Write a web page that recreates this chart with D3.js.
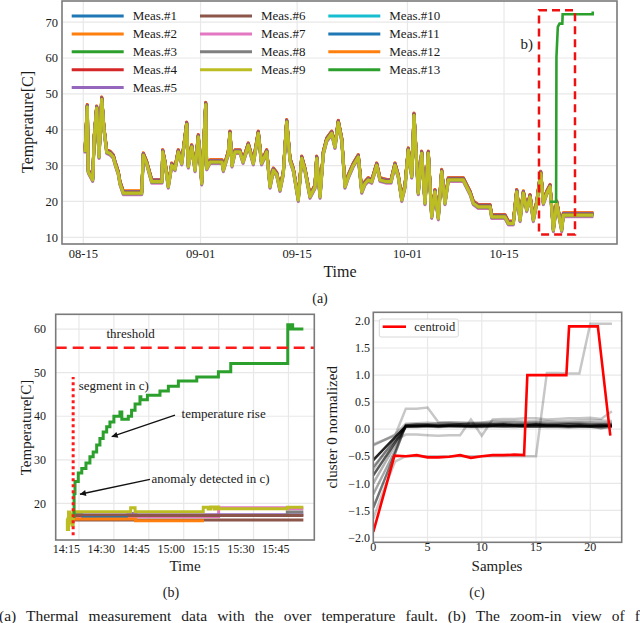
<!DOCTYPE html>
<html>
<head>
<meta charset="utf-8">
<script src="https://cdnjs.cloudflare.com/ajax/libs/d3/7.8.5/d3.min.js"></script>
<style>
  body { margin: 0; background: #fff; }
  text { font-family: "Liberation Serif", "DejaVu Serif", serif; fill: #1a1a1a; }
</style>
</head>
<body>
<script>

// ---------- (a) overview: days after 08-15 and temperature of Meas.#9 ----------
var overviewDays = [0.25,0.58,0.72,1.36,1.59,1.94,2.28,2.67,3.0,3.39,3.87,4.35,4.60,5.07,5.32,5.80,8.47,8.70,9.19,9.92,
  11.41,11.51,11.85,12.32,12.82,13.3,13.77,14.27,14.99,15.22,15.72,16.20,16.67,17.17,17.75,17.89,18.37,20.11,20.30,21.02,
  21.27,21.56,22.0,22.72,23.16,23.92,24.65,25.37,25.84,26.59,27.07,27.55,28.04,28.52,29.0,29.49,29.97,30.45,31.17,31.67,
  32.14,32.87,33.59,33.84,34.32,34.8,35.29,36.02,36.49,36.97,37.47,37.94,38.42,39.15,39.87,40.37,40.84,41.32,41.82,42.54,
  43.02,43.99,44.61,45.19,45.67,46.17,46.64,47.12,47.62,47.95,48.57,49.06,49.54,50.02,50.51,50.99,51.47,51.96,52.44,52.92,
  55.10,55.59,56.07,56.55,57.27,58.97,59.21,61.14,61.62,62.35,62.84,63.32,63.80,64.29,64.77,65.25,65.74,66.32,66.70,67.19,
  67.67,68.15,68.64,69.36,69.60,73.95];
var overviewTemps = [33.8,46.4,28.3,26,38,46,32.4,48.5,40,33.8,33.4,32.4,30.6,27.8,25,22.3,22.3,32.9,30.6,25.5,
  25.5,33.8,30.6,24.1,30.1,29,33.8,30.6,41.5,29.7,35.2,28.7,38,25,47,29.2,31,31,28.7,33.4,
  39,30,33.8,33.8,31,35.7,30.6,39,30.6,33.8,24.1,28.7,27.5,23.2,27.8,42.2,31.5,28.7,20.4,32,
  28.7,21.3,24,32,21.3,33.4,37.1,39,35.2,42,37.1,24.1,26.9,30.1,32.4,22.7,25,26,25.5,30.1,
  26,25.5,25.5,30.1,26.9,20.4,24.1,34.3,26.9,44,22.3,33.4,19.5,33.4,15.7,22.7,15.3,28.3,19.5,26,
  26,24.1,22.3,19.5,18.5,18.5,15.7,15.7,13.9,13.9,22.7,14.8,22.3,17.6,21.3,14.8,19.5,27.8,19.5,22.3,
  24.1,12,19.5,12,16.2,16.2];

var measNames = ["Meas.#1","Meas.#2","Meas.#3","Meas.#4","Meas.#5","Meas.#6","Meas.#7",
  "Meas.#8","Meas.#9","Meas.#10","Meas.#11","Meas.#12","Meas.#13"];
var measColors = ["#1f77b4","#ff7f0e","#2ca02c","#d62728","#9467bd","#8c564b","#e377c2",
  "#7f7f7f","#bcbd22","#17becf","#1f77b4","#ff7f0e","#2ca02c"];
// how far each sensor sits above / below Meas.#9 (degrees)
var measOffsets = [0.2, 0.6, 0.25, 0.5, 0.45, 0.3, -0.45, -0.25, 0, 0.1, 0.15, 0.65, 0];

// Meas.#13 leaves the group at the end (over-temperature fault)
var meas13Days = [67.67, 68.55, 68.6, 68.8, 69.05, 69.45, 69.5, 73.86, 73.86];
var meas13Temps = [19.9, 19.9, 60.3, 68.7, 69.6, 69.6, 72.2, 72.2, 73.0];

var dateTicks = [0, 17, 31, 47, 61];
var dateLabels = ["08-15", "09-01", "09-15", "10-01", "10-15"];
var tempTicks = [10, 20, 30, 40, 50, 60, 70];
var boxDays = [66.07, 71.29];
var boxTemps = [10.8, 73.3];

// ---------- (b) zoom: minutes after 14:00 ----------
var zoomTicks = [15, 30, 45, 60, 75, 90, 105];
var zoomLabels = ["14:15", "14:30", "14:45", "15:00", "15:15", "15:30", "15:45"];
var zoomTempTicks = [20, 30, 40, 50, 60];
var rise13 = [[12.5,17],[12.9,22.3],[13.3,25],[14.7,27],[16.2,28],[18,29.3],[19.7,30.7],[21.1,31.8],[22.6,33.4],
  [24,34.9],[25.4,36.4],[26.9,37.6],[28.3,38.7],[30,40],[32.6,41],[33.4,39.3],[36.2,40],[37.6,41.4],[39.1,42.8],
  [41.2,44.5],[41.6,43.8],[44.4,44.8],[49.8,45.8],[53.4,46.9],[57.7,48.1],[65.6,49],[74.9,50.2],[80.2,52.1],
  [104.7,61],[105.2,60],[106.4,61],[106.8,60],[111.4,60]];
var olive9 = [[9.6,16.5],[10.0,14.0],[10.5,18.0],[11.0,15.5],[11.5,17.5],[12.0,15.0],[12.5,18.1],[37.2,19.0],
  [39.1,18.1],[68.4,19.1],[70.5,18.7],[71.5,19.2],[73,18.7],[74,19.2],[75,18.8],[104.5,19.1],[111.4,19.1]];
var pink7 = [[12.8,17.0],[75,19.0],[104.5,18.8],[111.4,18.8]];
var purple5 = [[13,17.4],[36,17.7],[39.5,17.4],[111.4,17.4]];
var gray8 = [[10.5,16.0],[12.3,17.5],[16.1,17.2],[104.5,18.0],[111.4,18.0]];
var brown6 = [[12.5,17.2],[111.4,17.2]];
var brown6low = [[12.5,16.2],[111.4,16.2]];
var blue1 = [[16,16.7],[36,16.7]];
var orange2 = [[12.5,16.4],[39.3,16.0],[68.7,16.0]];
var threshold = 55.7;
var segmentMin = 12.5, segmentTemps = [12.7, 49];
var riseArrowMin = [56.25, 29.05], riseArrowTemp = [40.25, 35.3];
var anomArrowMin = [45.5, 15.4], anomArrowTemp = [25.5, 22.1];

// ---------- (c) cluster 0 members and centroid ----------
var sampleTicks = [0, 5, 10, 15, 20];
var normTicks = [-2, -1.5, -1, -0.5, 0, 0.5, 1, 1.5, 2];
var members = [
  [-0.57,-0.36,-0.15,0.06,0.06,0.07,0.06,0.07,0.07,0.06,0.07,0.07,0.08,0.07,0.07,0.08,0.07,0.07,0.06,0.07,0.06,0.07,0.06],
  [-0.85,-0.55,-0.25,0.05,0.06,0.06,0.05,0.06,0.06,0.05,0.05,0.06,0.06,0.06,0.05,0.05,0.06,0.06,0.05,0.05,0.05,0.05,0.07],
  [-1.45,-0.95,-0.45,0.07,0.08,0.08,0.07,0.08,0.09,0.08,0.08,0.09,0.09,0.08,0.08,0.09,0.08,0.08,0.09,0.09,0.08,0.08,0.08],
  [-0.3,-0.2,-0.1,0.1,0.11,0.12,0.11,0.12,0.12,0.11,0.12,0.12,0.13,0.13,0.12,0.13,0.12,0.12,0.12,0.13,0.13,0.12,0.12],
  [-1.0,-0.65,-0.3,0.04,0.04,0.05,0.04,0.05,0.05,0.04,0.04,0.05,0.05,0.04,0.05,0.05,0.04,0.04,0.03,0.04,0.04,0.04,0.04],
  [-1.2,-0.8,-0.4,0.08,0.09,0.09,0.1,0.1,0.09,0.1,0.1,0.1,0.11,0.1,0.1,0.11,0.1,0.1,0.11,0.11,0.1,0.1,0.1],
  [-0.7,-0.45,-0.2,0.05,0.05,0.06,0.06,0.06,0.05,0.06,0.06,0.06,0.05,0.06,0.06,0.06,0.05,0.05,0.06,0.06,0.05,0.02,0.05],
  [-0.28,-0.2,-0.12,0.38,0.38,0.4,0.13,0.13,0.12,0.12,0.12,0.15,0.15,0.15,0.14,0.15,0.15,0.14,0.15,0.16,0.17,0.16,0.15],
  [-0.75,-0.45,-0.2,-0.1,-0.1,-0.11,-0.12,-0.11,-0.11,0.18,-0.12,0.18,0.19,0.19,0.2,0.2,0.18,0.19,0.2,0.2,0.21,0.19,0.33],
  [-1.65,-1.1,-0.6,-0.5,-0.5,-0.5,-0.5,-0.5,-0.5,-0.5,-0.5,-0.5,-0.5,-0.5,-0.5,-0.5,1.04,1.04,1.03,1.03,1.95,1.95,1.95]
];
var memberAlpha = [0.85, 0.65, 0.55, 0.25, 0.3, 0.35, 0.4, 0.22, 0.22, 0.22];
var centroidX = [0,1.95,3,4,5,6,7,8,9,10,11,12,13,13.9,14.2,17.8,18.05,20.7,21.85];
var centroidY = [-1.9,-0.49,-0.5,-0.48,-0.52,-0.52,-0.51,-0.48,-0.53,-0.5,-0.48,-0.48,-0.47,-0.48,1.0,1.0,1.9,1.9,-0.12];

var captionText = "(a) Thermal measurement data with the over temperature fault. (b) The zoom-in view of fault";

var gridColor = "#e8e8e8";
var frameColor = "#7a7a7a";

var svg = d3.select("body")
  .append("svg")
  .attr("width", 640)
  .attr("height", 623);

var defs = svg.append("defs");
defs.append("marker")
  .attr("id", "arrow")
  .attr("viewBox", "0 0 10 10")
  .attr("refX", 10).attr("refY", 5)
  .attr("markerWidth", 9).attr("markerHeight", 6)
  .attr("markerUnits", "userSpaceOnUse")
  .attr("orient", "auto")
  .append("path")
  .attr("d", "M0,0L10,5L0,10z")
  .attr("fill", "#111");

// helper: grid, clip and frame for a panel
function makePanel(id, box, xs, ys, xTicks, yTicks) {
  defs.append("clipPath").attr("id", id)
    .append("rect")
    .attr("x", box.left).attr("y", box.top)
    .attr("width", box.right - box.left).attr("height", box.bottom - box.top);

  var g = svg.append("g");
  g.selectAll(".gx").data(xTicks).enter().append("line")
    .attr("x1", function(d) { return xs(d); }).attr("x2", function(d) { return xs(d); })
    .attr("y1", box.top).attr("y2", box.bottom)
    .attr("stroke", gridColor).attr("stroke-width", 1.2);
  g.selectAll(".gy").data(yTicks).enter().append("line")
    .attr("y1", function(d) { return ys(d); }).attr("y2", function(d) { return ys(d); })
    .attr("x1", box.left).attr("x2", box.right)
    .attr("stroke", gridColor).attr("stroke-width", 1.2);

  return g.append("g").attr("clip-path", "url(#" + id + ")");
}

function drawFrame(box) {
  svg.append("rect")
    .attr("x", box.left).attr("y", box.top)
    .attr("width", box.right - box.left).attr("height", box.bottom - box.top)
    .attr("fill", "none").attr("stroke", frameColor).attr("stroke-width", 1.6);
}

function fmtMinus(s) { return s.replace("-", "\u2212"); }

// =================== (a) ===================
var boxA = {left: 62, right: 617, top: 1, bottom: 244};
var xA = d3.scaleLinear().domain([-3.09, 77.38]).range([boxA.left, boxA.right]);
var yA = d3.scaleLinear().domain([8.13, 75.9]).range([boxA.bottom, boxA.top]);

var plotA = makePanel("clipA", boxA, xA, yA, dateTicks, tempTicks);

var lineA = d3.line()
  .x(function(d) { return xA(d[0]); })
  .y(function(d) { return yA(d[1]); });

// Meas.#10-#12 first, then #1-#8, #9 on top, #13 last
var drawOrder = [9, 10, 11, 0, 1, 2, 3, 4, 5, 6, 7, 8];
drawOrder.forEach(function(k) {
  var pts = overviewDays.map(function(d, i) { return [d, overviewTemps[i] + measOffsets[k]]; });
  plotA.append("path")
    .attr("d", lineA(pts))
    .attr("fill", "none")
    .attr("stroke", measColors[k])
    .attr("stroke-width", k == 8 ? 3.2 : 3)
    .attr("stroke-linejoin", "round");
});

plotA.append("path")
  .attr("d", lineA(meas13Days.map(function(d, i) { return [d, meas13Temps[i]]; })))
  .attr("fill", "none")
  .attr("stroke", measColors[12])
  .attr("stroke-width", 2.6);

// dashed box marking the zoom window
plotA.append("rect")
  .attr("x", xA(boxDays[0])).attr("y", yA(boxTemps[1]))
  .attr("width", xA(boxDays[1]) - xA(boxDays[0]))
  .attr("height", yA(boxTemps[0]) - yA(boxTemps[1]))
  .attr("fill", "none").attr("stroke", "#ee1111")
  .attr("stroke-width", 2.5).attr("stroke-dasharray", "8,5");

svg.append("text")
  .attr("x", xA(63.4)).attr("y", yA(62.4))
  .style("font-size", "15px")
  .text("b)");

drawFrame(boxA);

// ticks
svg.selectAll(".xa").data(dateTicks).enter().append("text")
  .attr("x", function(d) { return xA(d); }).attr("y", 258)
  .attr("text-anchor", "middle").style("font-size", "12.5px")
  .text(function(d, i) { return dateLabels[i]; });
svg.selectAll(".ya").data(tempTicks).enter().append("text")
  .attr("x", 58).attr("y", function(d) { return yA(d); })
  .attr("dy", "0.35em").attr("text-anchor", "end").style("font-size", "12.5px")
  .text(function(d) { return d; });

svg.append("text")
  .attr("x", 340).attr("y", 277)
  .attr("text-anchor", "middle").style("font-size", "16px")
  .text("Time");
svg.append("text")
  .attr("transform", "translate(33,122) rotate(-90)")
  .attr("text-anchor", "middle").style("font-size", "16px")
  .text("Temperature[C]");

// legend, three columns
var legendCols = [71.7, 200, 328.3];
var legendRows = [0, 0, 0, 0, 0, 1, 1, 1, 1, 2, 2, 2, 2];
var legendA = svg.selectAll(".legA").data(measNames).enter().append("g")
  .attr("transform", function(d, i) {
    var col = legendRows[i];
    var row = col == 0 ? i : (col == 1 ? i - 5 : i - 9);
    return "translate(" + legendCols[col] + "," + (16 + row * 17.9) + ")";
  });
legendA.append("line")
  .attr("x1", 0).attr("x2", 52)
  .attr("stroke", function(d, i) { return measColors[i]; })
  .attr("stroke-width", 3);
legendA.append("text")
  .attr("x", 61).attr("dy", "0.33em")
  .style("font-size", "13px")
  .text(function(d) { return d; });

svg.append("text")
  .attr("x", 320).attr("y", 303)
  .attr("text-anchor", "middle").style("font-size", "14px")
  .text("(a)");

// =================== (b) ===================
var boxB = {left: 55.7, right: 314.3, top: 314.3, bottom: 540};
var xB = d3.scaleLinear().domain([5, 116.1]).range([boxB.left, boxB.right]);
var yB = d3.scaleLinear().domain([11.6, 63.4]).range([boxB.bottom, boxB.top]);

var plotB = makePanel("clipB", boxB, xB, yB, zoomTicks, zoomTempTicks);

var stepB = d3.line()
  .x(function(d) { return xB(d[0]); })
  .y(function(d) { return yB(d[1]); })
  .curve(d3.curveStepAfter);

var zoomSeries = [
  [pink7, measColors[6]], [purple5, measColors[4]], [gray8, measColors[7]],
  [brown6low, measColors[5]], [brown6, measColors[5]], [blue1, measColors[0]],
  [orange2, measColors[1]], [olive9, measColors[8]], [rise13, measColors[12]]
];
zoomSeries.forEach(function(s) {
  plotB.append("path")
    .attr("d", stepB(s[0]))
    .attr("fill", "none")
    .attr("stroke", s[1])
    .attr("stroke-width", 3);
});

// threshold and segment markers
plotB.append("line")
  .attr("x1", boxB.left).attr("x2", boxB.right)
  .attr("y1", yB(threshold)).attr("y2", yB(threshold))
  .attr("stroke", "#ff1a1a").attr("stroke-width", 2.5)
  .attr("stroke-dasharray", "11,6");
plotB.append("line")
  .attr("x1", xB(segmentMin)).attr("x2", xB(segmentMin))
  .attr("y1", yB(segmentTemps[0])).attr("y2", yB(segmentTemps[1]))
  .attr("stroke", "#ff1a1a").attr("stroke-width", 3)
  .attr("stroke-dasharray", "3,3");

svg.append("text").attr("x", xB(26.8)).attr("y", yB(57.9))
  .style("font-size", "13px").text("threshold");
svg.append("text").attr("x", xB(14.9)).attr("y", yB(46))
  .style("font-size", "13px").text("segment in c)");
svg.append("text").attr("x", xB(59.1)).attr("y", yB(39.7))
  .style("font-size", "13px").text("temperature rise");
svg.append("text").attr("x", xB(46.2)).attr("y", yB(24.6))
  .style("font-size", "13px").text("anomaly detected in c)");

[[riseArrowMin, riseArrowTemp], [anomArrowMin, anomArrowTemp]].forEach(function(a) {
  svg.append("line")
    .attr("x1", xB(a[0][0])).attr("y1", yB(a[1][0]))
    .attr("x2", xB(a[0][1])).attr("y2", yB(a[1][1]))
    .attr("stroke", "#111").attr("stroke-width", 1.3)
    .attr("marker-end", "url(#arrow)");
});

drawFrame(boxB);

svg.selectAll(".xb").data(zoomTicks).enter().append("text")
  .attr("x", function(d) { return xB(d) + 1; }).attr("y", 553)
  .attr("text-anchor", "end").style("font-size", "12px")
  .text(function(d, i) { return zoomLabels[i]; });
svg.selectAll(".yb").data(zoomTempTicks).enter().append("text")
  .attr("x", 46).attr("y", function(d) { return yB(d); })
  .attr("dy", "0.35em").attr("text-anchor", "end").style("font-size", "12px")
  .text(function(d) { return d; });

svg.append("text")
  .attr("x", 185).attr("y", 571)
  .attr("text-anchor", "middle").style("font-size", "15px")
  .text("Time");
svg.append("text")
  .attr("transform", "translate(31,427.5) rotate(-90)")
  .attr("text-anchor", "middle").style("font-size", "15px")
  .text("Temperature[C]");

svg.append("text")
  .attr("x", 171).attr("y", 597)
  .attr("text-anchor", "middle").style("font-size", "14px")
  .text("(b)");

// =================== (c) ===================
var boxC = {left: 373.3, right: 621.7, top: 312.3, bottom: 542.3};
var xC = d3.scaleLinear().domain([0, 22.9]).range([boxC.left, boxC.right]);
var yC = d3.scaleLinear().domain([-2.09, 2.16]).range([boxC.bottom, boxC.top]);

var plotC = makePanel("clipC", boxC, xC, yC, sampleTicks, normTicks);

var lineC = d3.line()
  .x(function(d) { return xC(d[0]); })
  .y(function(d) { return yC(d[1]); });

members.forEach(function(m, k) {
  plotC.append("path")
    .attr("d", lineC(m.map(function(v, i) { return [i, v]; })))
    .attr("fill", "none")
    .attr("stroke", "#000")
    .attr("stroke-opacity", memberAlpha[k])
    .attr("stroke-width", 2.5);
});

plotC.append("path")
  .attr("d", lineC(centroidX.map(function(x, i) { return [x, centroidY[i]]; })))
  .attr("fill", "none")
  .attr("stroke", "#ff0000")
  .attr("stroke-width", 2.6);

drawFrame(boxC);

// legend
svg.append("rect")
  .attr("x", 379.3).attr("y", 319).attr("width", 79).attr("height", 18)
  .attr("rx", 2).attr("fill", "#fff").attr("fill-opacity", 0.8)
  .attr("stroke", "#d8d8d8").attr("stroke-width", 1);
svg.append("line")
  .attr("x1", 382.7).attr("x2", 406).attr("y1", 326.7).attr("y2", 326.7)
  .attr("stroke", "#ff0000").attr("stroke-width", 2.6);
svg.append("text")
  .attr("x", 414.3).attr("y", 326.7).attr("dy", "0.33em")
  .style("font-size", "12.5px").text("centroid");

svg.selectAll(".xc").data(sampleTicks).enter().append("text")
  .attr("x", function(d) { return xC(d); }).attr("y", 551)
  .attr("text-anchor", "middle").style("font-size", "12px")
  .text(function(d) { return d; });
svg.selectAll(".yc").data(normTicks).enter().append("text")
  .attr("x", 370).attr("y", function(d) { return yC(d); })
  .attr("dy", "0.35em").attr("text-anchor", "end").style("font-size", "12px")
  .text(function(d) { return fmtMinus(d3.format(".1f")(d)); });

svg.append("text")
  .attr("x", 497).attr("y", 571)
  .attr("text-anchor", "middle").style("font-size", "15px")
  .text("Samples");
svg.append("text")
  .attr("transform", "translate(337,427.3) rotate(-90)")
  .attr("text-anchor", "middle").style("font-size", "15px")
  .text("cluster 0 normalized");

svg.append("text")
  .attr("x", 477).attr("y", 597)
  .attr("text-anchor", "middle").style("font-size", "14px")
  .text("(c)");

// caption line, spaces stretched like a justified line
var cap = svg.append("text")
  .attr("x", -1).attr("y", 621)
  .style("font-size", "15.5px")
  .text(captionText);
var cut = captionText.indexOf("of f") + 4;
var subLen = cap.node().getSubStringLength(0, cut);
var nSpaces = captionText.slice(0, cut).split(" ").length - 1;
cap.attr("word-spacing", Math.max(0, (641 - subLen) / nSpaces));

</script>
</body>
</html>
